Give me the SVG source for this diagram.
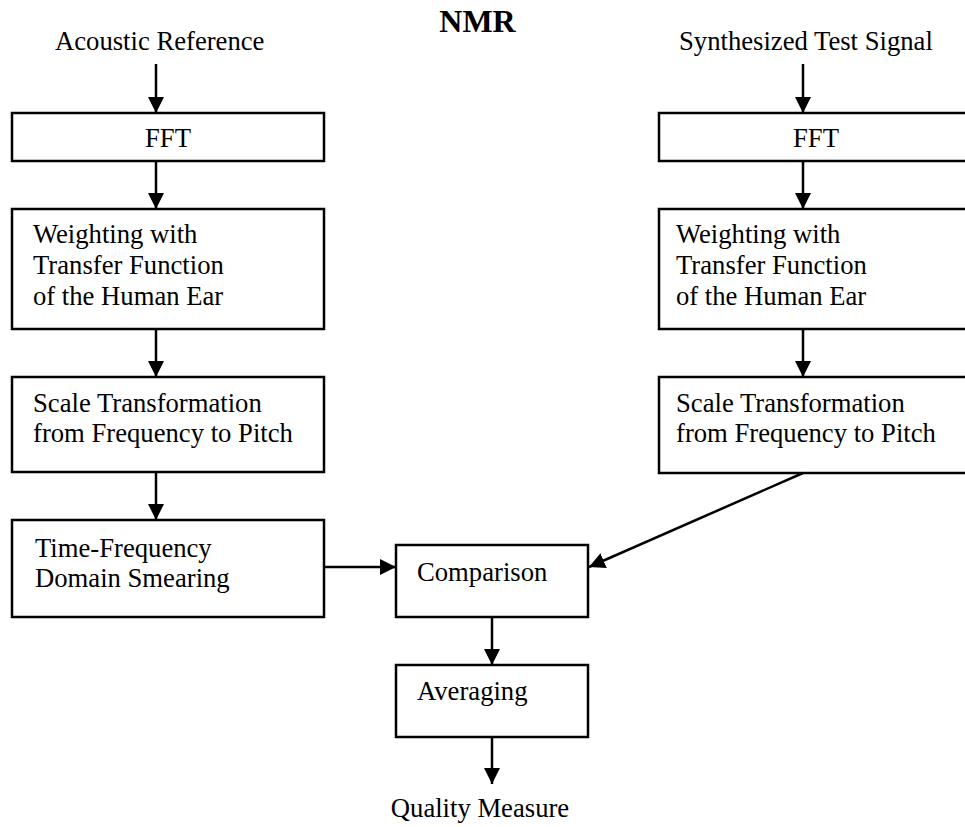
<svg xmlns="http://www.w3.org/2000/svg" width="965" height="827" viewBox="0 0 965 827">
<style>
.box{fill:#fff;stroke:#000;stroke-width:2.5}
.t{font-family:"Liberation Serif","Times New Roman",serif;font-size:26.67px;fill:#000}
.title{font-family:"Liberation Serif","Times New Roman",serif;font-size:32px;font-weight:bold;fill:#000}
.c{stroke:#000;stroke-width:2.5;fill:none;marker-end:url(#ah)}
</style>
<defs>
<marker id="ah" markerUnits="userSpaceOnUse" markerWidth="16" markerHeight="16" viewBox="0 0 14 14" refX="14" refY="7" orient="auto">
<path d="M0,0 L14,7 L0,14 Z" fill="#000"/>
</marker>
</defs>
<rect width="965" height="827" fill="#fff"/>
<text class="title" x="477.5" y="32" text-anchor="middle">NMR</text>
<g id="in-ref"><text class="t" x="55" y="50">Acoustic Reference</text></g>
<g id="in-test"><text class="t" x="679" y="50">Synthesized Test Signal</text></g>
<g id="fft-l"><rect class="box" x="12" y="113" width="312" height="48"/><text class="t" x="168" y="147" text-anchor="middle">FFT</text></g>
<g id="fft-r"><rect class="box" x="659" y="113" width="314" height="48"/><text class="t" x="816" y="147" text-anchor="middle">FFT</text></g>
<g id="weight-l"><rect class="box" x="12" y="209" width="312" height="120"/>
<text class="t" x="33" y="243">Weighting with</text><text class="t" x="33" y="274">Transfer Function</text><text class="t" x="33" y="305">of the Human Ear</text></g>
<g id="weight-r"><rect class="box" x="659" y="209" width="314" height="120"/>
<text class="t" x="676" y="243">Weighting with</text><text class="t" x="676" y="274">Transfer Function</text><text class="t" x="676" y="305">of the Human Ear</text></g>
<g id="scale-l"><rect class="box" x="12" y="377" width="312" height="95"/>
<text class="t" x="33" y="412">Scale Transformation</text><text class="t" x="33" y="442">from Frequency to Pitch</text></g>
<g id="scale-r"><rect class="box" x="659" y="377" width="314" height="96"/>
<text class="t" x="676" y="412">Scale Transformation</text><text class="t" x="676" y="442">from Frequency to Pitch</text></g>
<g id="smear"><rect class="box" x="12" y="520" width="312" height="97"/>
<text class="t" x="35" y="557">Time-Frequency</text><text class="t" x="35" y="587">Domain Smearing</text></g>
<g id="comparison"><rect class="box" x="396" y="545" width="192" height="72"/><text class="t" x="417" y="581">Comparison</text></g>
<g id="averaging"><rect class="box" x="396" y="665" width="192" height="72"/><text class="t" x="417" y="700">Averaging</text></g>
<g id="out"><text class="t" x="480" y="817" text-anchor="middle">Quality Measure</text></g>
<g id="connectors">
<line class="c" x1="156" y1="64" x2="156" y2="113"/>
<line class="c" x1="156" y1="161" x2="156" y2="209"/>
<line class="c" x1="156" y1="329" x2="156" y2="377"/>
<line class="c" x1="156" y1="472" x2="156" y2="520"/>
<line class="c" x1="803" y1="64" x2="803" y2="113"/>
<line class="c" x1="803" y1="161" x2="803" y2="209"/>
<line class="c" x1="803" y1="329" x2="803" y2="377"/>
<line class="c" x1="803" y1="473" x2="589" y2="567"/>
<line class="c" x1="324" y1="567" x2="396" y2="567"/>
<line class="c" x1="492" y1="617" x2="492" y2="665"/>
<line class="c" x1="492" y1="737" x2="492" y2="784"/>
</g>
</svg>
